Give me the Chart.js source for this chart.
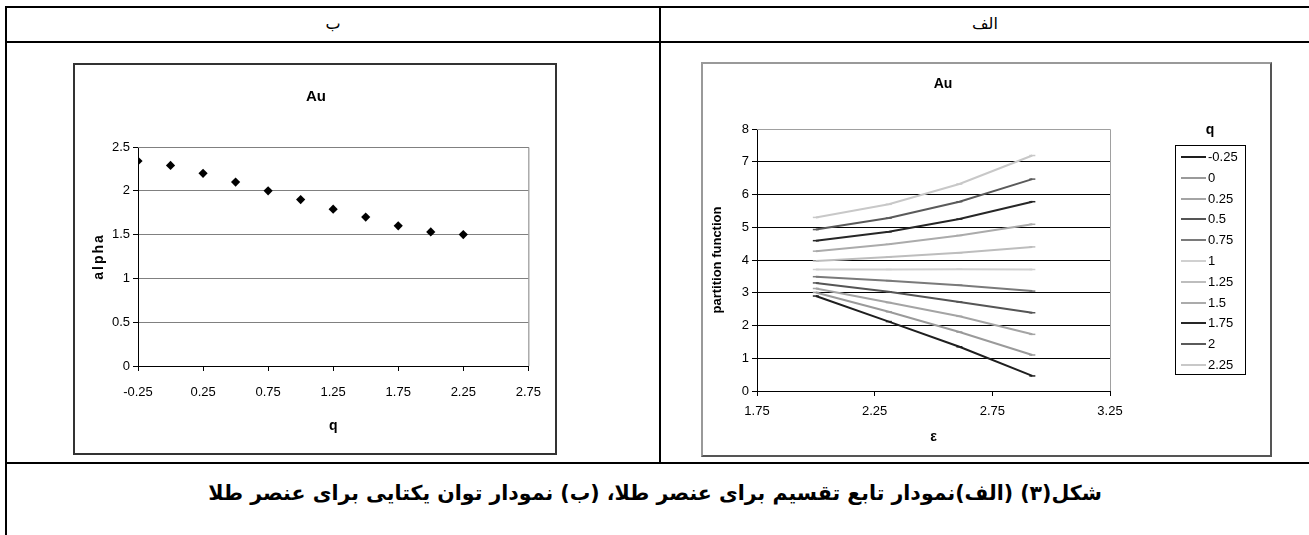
<!DOCTYPE html>
<html lang="fa">
<head>
<meta charset="utf-8">
<title>Au</title>
<script src="https://cdn.jsdelivr.net/npm/chart.js@4.4.1/dist/chart.umd.min.js"></script>
<style>
  html, body { margin: 0; padding: 0; background: #fff; }
  body { position: relative; width: 1309px; height: 535px; overflow: hidden; }
  .rule { position: absolute; background: #000; }
  .cell-text { position: absolute; font-family: "DejaVu Sans", sans-serif; direction: rtl; text-align: center; color: #000; white-space: nowrap; }
  .frame { position: absolute; box-sizing: border-box; }
  canvas { position: absolute; }
</style>
</head>
<body>
<!-- table rules -->
<div class="rule" style="left:5px;top:6px;width:1304px;height:2px"></div>
<div class="rule" style="left:5px;top:6px;width:2px;height:529px"></div>
<div class="rule" style="left:5px;top:41px;width:1304px;height:2px"></div>
<div class="rule" style="left:659px;top:6px;width:2px;height:458px"></div>
<div class="rule" style="left:5px;top:462px;width:1304px;height:2px"></div>

<!-- header cells -->
<div class="cell-text" style="left:7px;width:652px;top:13px;font-size:16px;line-height:22px">ب</div>
<div class="cell-text" style="left:661px;width:648px;top:13px;font-size:16px;line-height:22px">الف</div>

<!-- chart frames -->
<div class="frame" style="left:73px;top:63px;width:484px;height:392px;border:2px solid #333"></div>
<canvas id="alphaChart" width="480" height="388" style="left:75px;top:65px"></canvas>

<div class="frame" style="left:701px;top:62px;width:571px;height:395px;border:2px solid #555;border-top-color:#999;border-left-color:#999"></div>
<canvas id="partitionChart" width="567" height="391" style="left:703px;top:64px"></canvas>

<!-- caption -->
<div class="cell-text" style="left:7px;width:1296px;top:480px;font-size:20.5px;line-height:26px;font-weight:bold">شکل(۳) (الف)نمودار تابع تقسیم برای عنصر طلا، (ب) نمودار توان یکتایی برای عنصر طلا</div>

<script>
// ---- alpha vs q ----
const alphaQ      = [-0.25, 0, 0.25, 0.5, 0.75, 1, 1.25, 1.5, 1.75, 2, 2.25];
const alphaValues = [2.34, 2.29, 2.2, 2.1, 2.0, 1.9, 1.79, 1.7, 1.6, 1.53, 1.5];
const alphaXTicks = [-0.25, 0.25, 0.75, 1.25, 1.75, 2.25, 2.75];
const alphaYTicks = [0, 0.5, 1, 1.5, 2, 2.5];

// ---- partition function vs epsilon, one array per q ----
const epsValues = [2.0, 2.31, 2.61, 2.92];
const qLabels   = ['-0.25', '0', '0.25', '0.5', '0.75', '1', '1.25', '1.5', '1.75', '2', '2.25'];
const zQm025 = [2.9, 2.12, 1.35, 0.46];
const zQ000  = [3.01, 2.42, 1.8, 1.1];
const zQ025  = [3.13, 2.7, 2.28, 1.73];
const zQ050  = [3.3, 3.03, 2.72, 2.39];
const zQ075  = [3.49, 3.37, 3.23, 3.05];
const zQ100  = [3.71, 3.71, 3.72, 3.71];
const zQ125  = [3.97, 4.09, 4.22, 4.4];
const zQ150  = [4.27, 4.48, 4.75, 5.09];
const zQ175  = [4.59, 4.86, 5.25, 5.78];
const zQ200  = [4.93, 5.28, 5.78, 6.47];
const zQ225  = [5.3, 5.7, 6.32, 7.19];
const partitionSeries = [zQm025, zQ000, zQ025, zQ050, zQ075, zQ100, zQ125, zQ150, zQ175, zQ200, zQ225];
const epsXTicks = [1.75, 2.25, 2.75, 3.25];
const epsYTicks = [0, 1, 2, 3, 4, 5, 6, 7, 8];

// line shades for each q series
const seriesColors = ['#1e1e1e', '#9a9a9a', '#a4a4a4', '#555555', '#7a7a7a', '#d0d0d0',
                      '#bdbdbd', '#ababab', '#262626', '#5a5a5a', '#c8c8c8'];

const FONT = '"Liberation Sans", Arial, sans-serif';
const fmt = v => String(+Number(v).toFixed(2));

// gray top and right edges of the plot area
const plotEdges = color => ({
  id: 'plotEdges',
  afterDatasetsDraw(chart) {
    const { ctx, chartArea: a } = chart;
    ctx.save();
    ctx.strokeStyle = color;
    ctx.lineWidth = 1;
    ctx.beginPath();
    ctx.moveTo(a.left, a.top + 0.5);
    ctx.lineTo(a.right + 0.5, a.top + 0.5);
    ctx.lineTo(a.right + 0.5, a.bottom);
    ctx.stroke();
    ctx.restore();
  }
});

// chart heading placed at a fixed point of the canvas
const heading = (text, x, y, size) => ({
  id: 'heading',
  afterDraw(chart) {
    const { ctx } = chart;
    ctx.save();
    ctx.fillStyle = '#000';
    ctx.font = 'bold ' + size + 'px ' + FONT;
    ctx.textAlign = 'center';
    ctx.textBaseline = 'middle';
    ctx.fillText(text, x, y);
    ctx.restore();
  }
});

// letter-spaced vertical axis caption, centred on the plot height
const spacedYCaption = (text, x, spacing) => ({
  id: 'spacedYCaption',
  afterDraw(chart) {
    const { ctx, chartArea: a } = chart;
    ctx.save();
    ctx.translate(x, (a.top + a.bottom) / 2);
    ctx.rotate(-Math.PI / 2);
    ctx.fillStyle = '#000';
    ctx.font = 'bold 14px ' + FONT;
    ctx.letterSpacing = spacing;
    ctx.textAlign = 'center';
    ctx.textBaseline = 'middle';
    ctx.fillText(text, 0, 0);
    ctx.restore();
  }
});

function fixedTicks(values) {
  return function (scale) {
    scale.ticks = values.map(v => ({ value: v }));
  };
}

new Chart(document.getElementById('alphaChart'), {
  type: 'scatter',
  data: {
    datasets: [{
      label: 'alpha',
      data: alphaQ.map((q, i) => ({ x: q, y: alphaValues[i] })),
      pointStyle: 'rectRot',
      pointRadius: 4.6,
      backgroundColor: '#000',
      borderColor: '#000',
      borderWidth: 0
    }]
  },
  options: {
    responsive: false,
    animation: false,
    events: [],
    layout: { padding: { left: 0, right: 20, top: 82, bottom: 0 } },
    plugins: {
      legend: { display: false },
      tooltip: { enabled: false },
      title: { display: false }
    },
    scales: {
      x: {
        type: 'linear', min: alphaXTicks[0], max: alphaXTicks[alphaXTicks.length - 1],
        afterFit(s) { s.height = 87; },
        afterBuildTicks: fixedTicks(alphaXTicks),
        ticks: { color: '#000', padding: 14, maxRotation: 0, font: { family: FONT, size: 13 }, callback: fmt },
        grid: { drawOnChartArea: false, drawTicks: true, tickLength: 5, tickColor: '#000' },
        border: { color: '#000', width: 1 },
        title: { display: true, text: 'q', color: '#000', font: { family: FONT, size: 14, weight: 'bold' }, padding: { top: 0, bottom: 18 } }
      },
      y: {
        type: 'linear', min: alphaYTicks[0], max: alphaYTicks[alphaYTicks.length - 1],
        afterFit(s) { s.width = 63; },
        afterBuildTicks: fixedTicks(alphaYTicks),
        ticks: { color: '#000', padding: 3, font: { family: FONT, size: 13 }, callback: fmt },
        grid: { color: '#808080', lineWidth: 1, tickLength: 5, tickColor: '#000' },
        border: { color: '#000', width: 1 },
        title: { display: false }
      }
    }
  },
  plugins: [plotEdges('#808080'), heading('Au', 241, 32, 15), spacedYCaption('alpha', 24, '2px')]
});

// boxed legend with a "q" heading on the right side of the partition chart
const boxedLegend = {
  id: 'boxedLegend',
  afterDraw(chart) {
    const { ctx } = chart;
    const box = { left: 472, top: 81, right: 542, bottom: 310 };
    const firstY = 93, step = 20.8;
    ctx.save();
    ctx.fillStyle = '#000';
    ctx.font = 'bold 14px ' + FONT;
    ctx.textAlign = 'center';
    ctx.textBaseline = 'middle';
    ctx.fillText('q', (box.left + box.right) / 2, 66);
    ctx.strokeStyle = '#000';
    ctx.lineWidth = 1;
    ctx.strokeRect(box.left + 0.5, box.top + 0.5, box.right - box.left, box.bottom - box.top);
    ctx.font = '13px ' + FONT;
    ctx.textAlign = 'left';
    chart.data.datasets.forEach((ds, i) => {
      const y = Math.round(firstY + i * step);
      ctx.strokeStyle = ds.borderColor;
      ctx.lineWidth = 2;
      ctx.beginPath();
      ctx.moveTo(box.left + 6, y);
      ctx.lineTo(box.left + 31, y);
      ctx.stroke();
      ctx.fillStyle = '#000';
      ctx.fillText(ds.label, box.left + 33, y);
    });
    ctx.restore();
  }
};

new Chart(document.getElementById('partitionChart'), {
  type: 'line',
  data: {
    datasets: partitionSeries.map((vals, i) => ({
      label: qLabels[i],
      data: epsValues.map((e, j) => ({ x: e, y: vals[j] })),
      borderColor: seriesColors[i],
      backgroundColor: seriesColors[i],
      borderWidth: 2,
      tension: 0,
      fill: false,
      pointStyle: 'line',
      pointRadius: 3,
      pointBorderWidth: 1.5,
      pointBorderColor: seriesColors[i]
    }))
  },
  options: {
    responsive: false,
    animation: false,
    events: [],
    layout: { padding: { left: 0, right: 160, top: 65, bottom: 0 } },
    plugins: {
      legend: { display: false },
      tooltip: { enabled: false },
      title: { display: false }
    },
    scales: {
      x: {
        type: 'linear', min: epsXTicks[0], max: epsXTicks[epsXTicks.length - 1],
        afterFit(s) { s.height = 64; },
        afterBuildTicks: fixedTicks(epsXTicks),
        ticks: { color: '#000', padding: 8, maxRotation: 0, font: { family: FONT, size: 13 }, callback: fmt },
        grid: { drawOnChartArea: false, drawTicks: true, tickLength: 5, tickColor: '#000' },
        border: { color: '#000', width: 1 },
        title: { display: true, text: 'ε', color: '#000', font: { family: FONT, size: 14, weight: 'bold' }, padding: { top: 0, bottom: 9 } }
      },
      y: {
        type: 'linear', min: epsYTicks[0], max: epsYTicks[epsYTicks.length - 1],
        afterFit(s) { s.width = 54; },
        afterBuildTicks: fixedTicks(epsYTicks),
        ticks: { color: '#000', padding: 3, font: { family: FONT, size: 13 }, callback: fmt },
        grid: {
          color: c => (c.tick && c.tick.value === epsYTicks[epsYTicks.length - 1]) ? '#808080' : '#000',
          lineWidth: 1, tickLength: 5, tickColor: '#000'
        },
        border: { color: '#000', width: 1 },
        title: { display: true, text: 'partition function', color: '#000', font: { family: FONT, size: 13, weight: 'bold' }, padding: { top: 7, bottom: 0 } }
      }
    }
  },
  plugins: [plotEdges('#a0a0a0'), boxedLegend, heading('Au', 240, 20, 14)]
});
</script>
</body>
</html>
